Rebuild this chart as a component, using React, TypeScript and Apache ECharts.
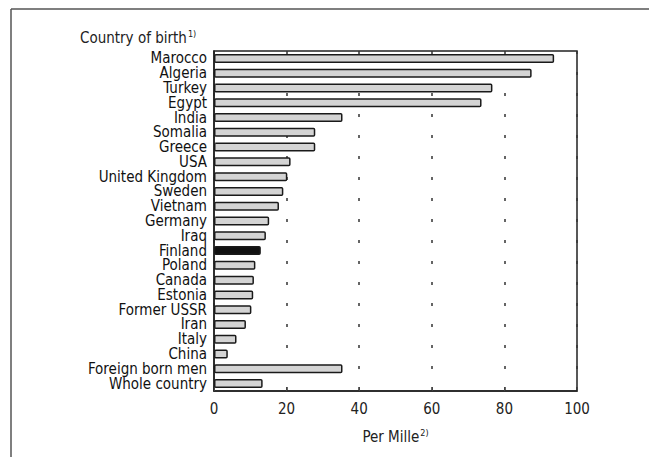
import React, { useEffect, useRef } from "react";
import * as echarts from "echarts";

const categories = [
  "Marocco", "Algeria", "Turkey", "Egypt", "India", "Somalia", "Greece", "USA",
  "United Kingdom", "Sweden", "Vietnam", "Germany", "Iraq", "Finland", "Poland",
  "Canada", "Estonia", "Former USSR", "Iran", "Italy", "China",
  "Foreign born men", "Whole country",
];
const values = [
  93.7, 87.5, 76.7, 73.7, 35.4, 27.9, 27.9, 21.1, 20.2, 19.1, 17.9, 15.2, 14.3,
  12.9, 11.4, 11.0, 10.8, 10.3, 8.8, 6.2, 3.8, 35.4, 13.4,
];
const highlight = "Finland";
const xTicks = [0, 20, 40, 60, 80, 100];

const FONT = "'DejaVu Sans Condensed', 'Liberation Sans Narrow', 'Liberation Sans', sans-serif";

export default function App() {
  const ref = useRef<HTMLDivElement>(null);
  useEffect(() => {
    if (!ref.current) return;
    const chart = echarts.init(ref.current, undefined, { renderer: "svg" });
    chart.setOption({
      animation: false,
      backgroundColor: "#ffffff",
      grid: {
        left: 214, right: 72, top: 51, bottom: 66,
        show: true, borderColor: "#222", borderWidth: 1.5, backgroundColor: "transparent",
      },
      graphic: [
        { type: "line", shape: { x1: 11, y1: 9, x2: 649, y2: 9 }, style: { stroke: "#555", lineWidth: 1.5 } },
        { type: "line", shape: { x1: 11, y1: 9, x2: 11, y2: 457 }, style: { stroke: "#555", lineWidth: 1.5 } },
        {
          type: "text", left: 80, top: 29,
          style: {
            text: "{a|Country of birth}{s|1)}",
            rich: {
              a: { fontFamily: FONT, fontSize: 15, fill: "#222" },
              s: { fontFamily: FONT, fontSize: 9, fill: "#222", verticalAlign: "top", padding: [0, 0, 8, 1] },
            },
          },
        },
      ],
      xAxis: {
        type: "value",
        min: xTicks[0], max: xTicks[xTicks.length - 1], interval: 20,
        axisLine: { show: true, lineStyle: { color: "#222", width: 1.5 } },
        axisTick: { show: true, inside: true, length: 4, lineStyle: { color: "#444", width: 1 } },
        axisLabel: { color: "#222", fontFamily: FONT, fontSize: 15, margin: 10 },
        splitLine: {
          show: true,
          lineStyle: { color: "#333", width: 1.5, type: [3, 18], dashOffset: 0 },
        },
        name: "{a|Per Mille}{s|2)}",
        nameLocation: "middle",
        nameGap: 37,
        nameTextStyle: {
          rich: {
            a: { fontFamily: FONT, fontSize: 15, color: "#222" },
            s: { fontFamily: FONT, fontSize: 9, color: "#222", verticalAlign: "top", padding: [0, 0, 8, 1] },
          },
        },
      },
      yAxis: {
        type: "category",
        data: categories,
        inverse: true,
        axisLine: { show: true, lineStyle: { color: "#222", width: 1.5 } },
        axisTick: { show: false },
        axisLabel: { color: "#111", fontFamily: FONT, fontSize: 15, margin: 7, interval: 0, lineHeight: 14 },
        splitLine: { show: false },
      },
      series: [
        {
          type: "bar",
          data: values.map((v, i) => ({
            value: v,
            itemStyle: {
              color: categories[i] === highlight ? "#111" : "#d4d4d4",
            },
          })),
          barWidth: 9,
          itemStyle: { borderColor: "#1a1a1a", borderWidth: 1.5, borderRadius: 1 },
          z: 3,
        },
      ],
    });
    return () => chart.dispose();
  }, []);
  return <div ref={ref} style={{ width: 649, height: 457, position: "absolute", left: 0, top: 0 }} />;
}
